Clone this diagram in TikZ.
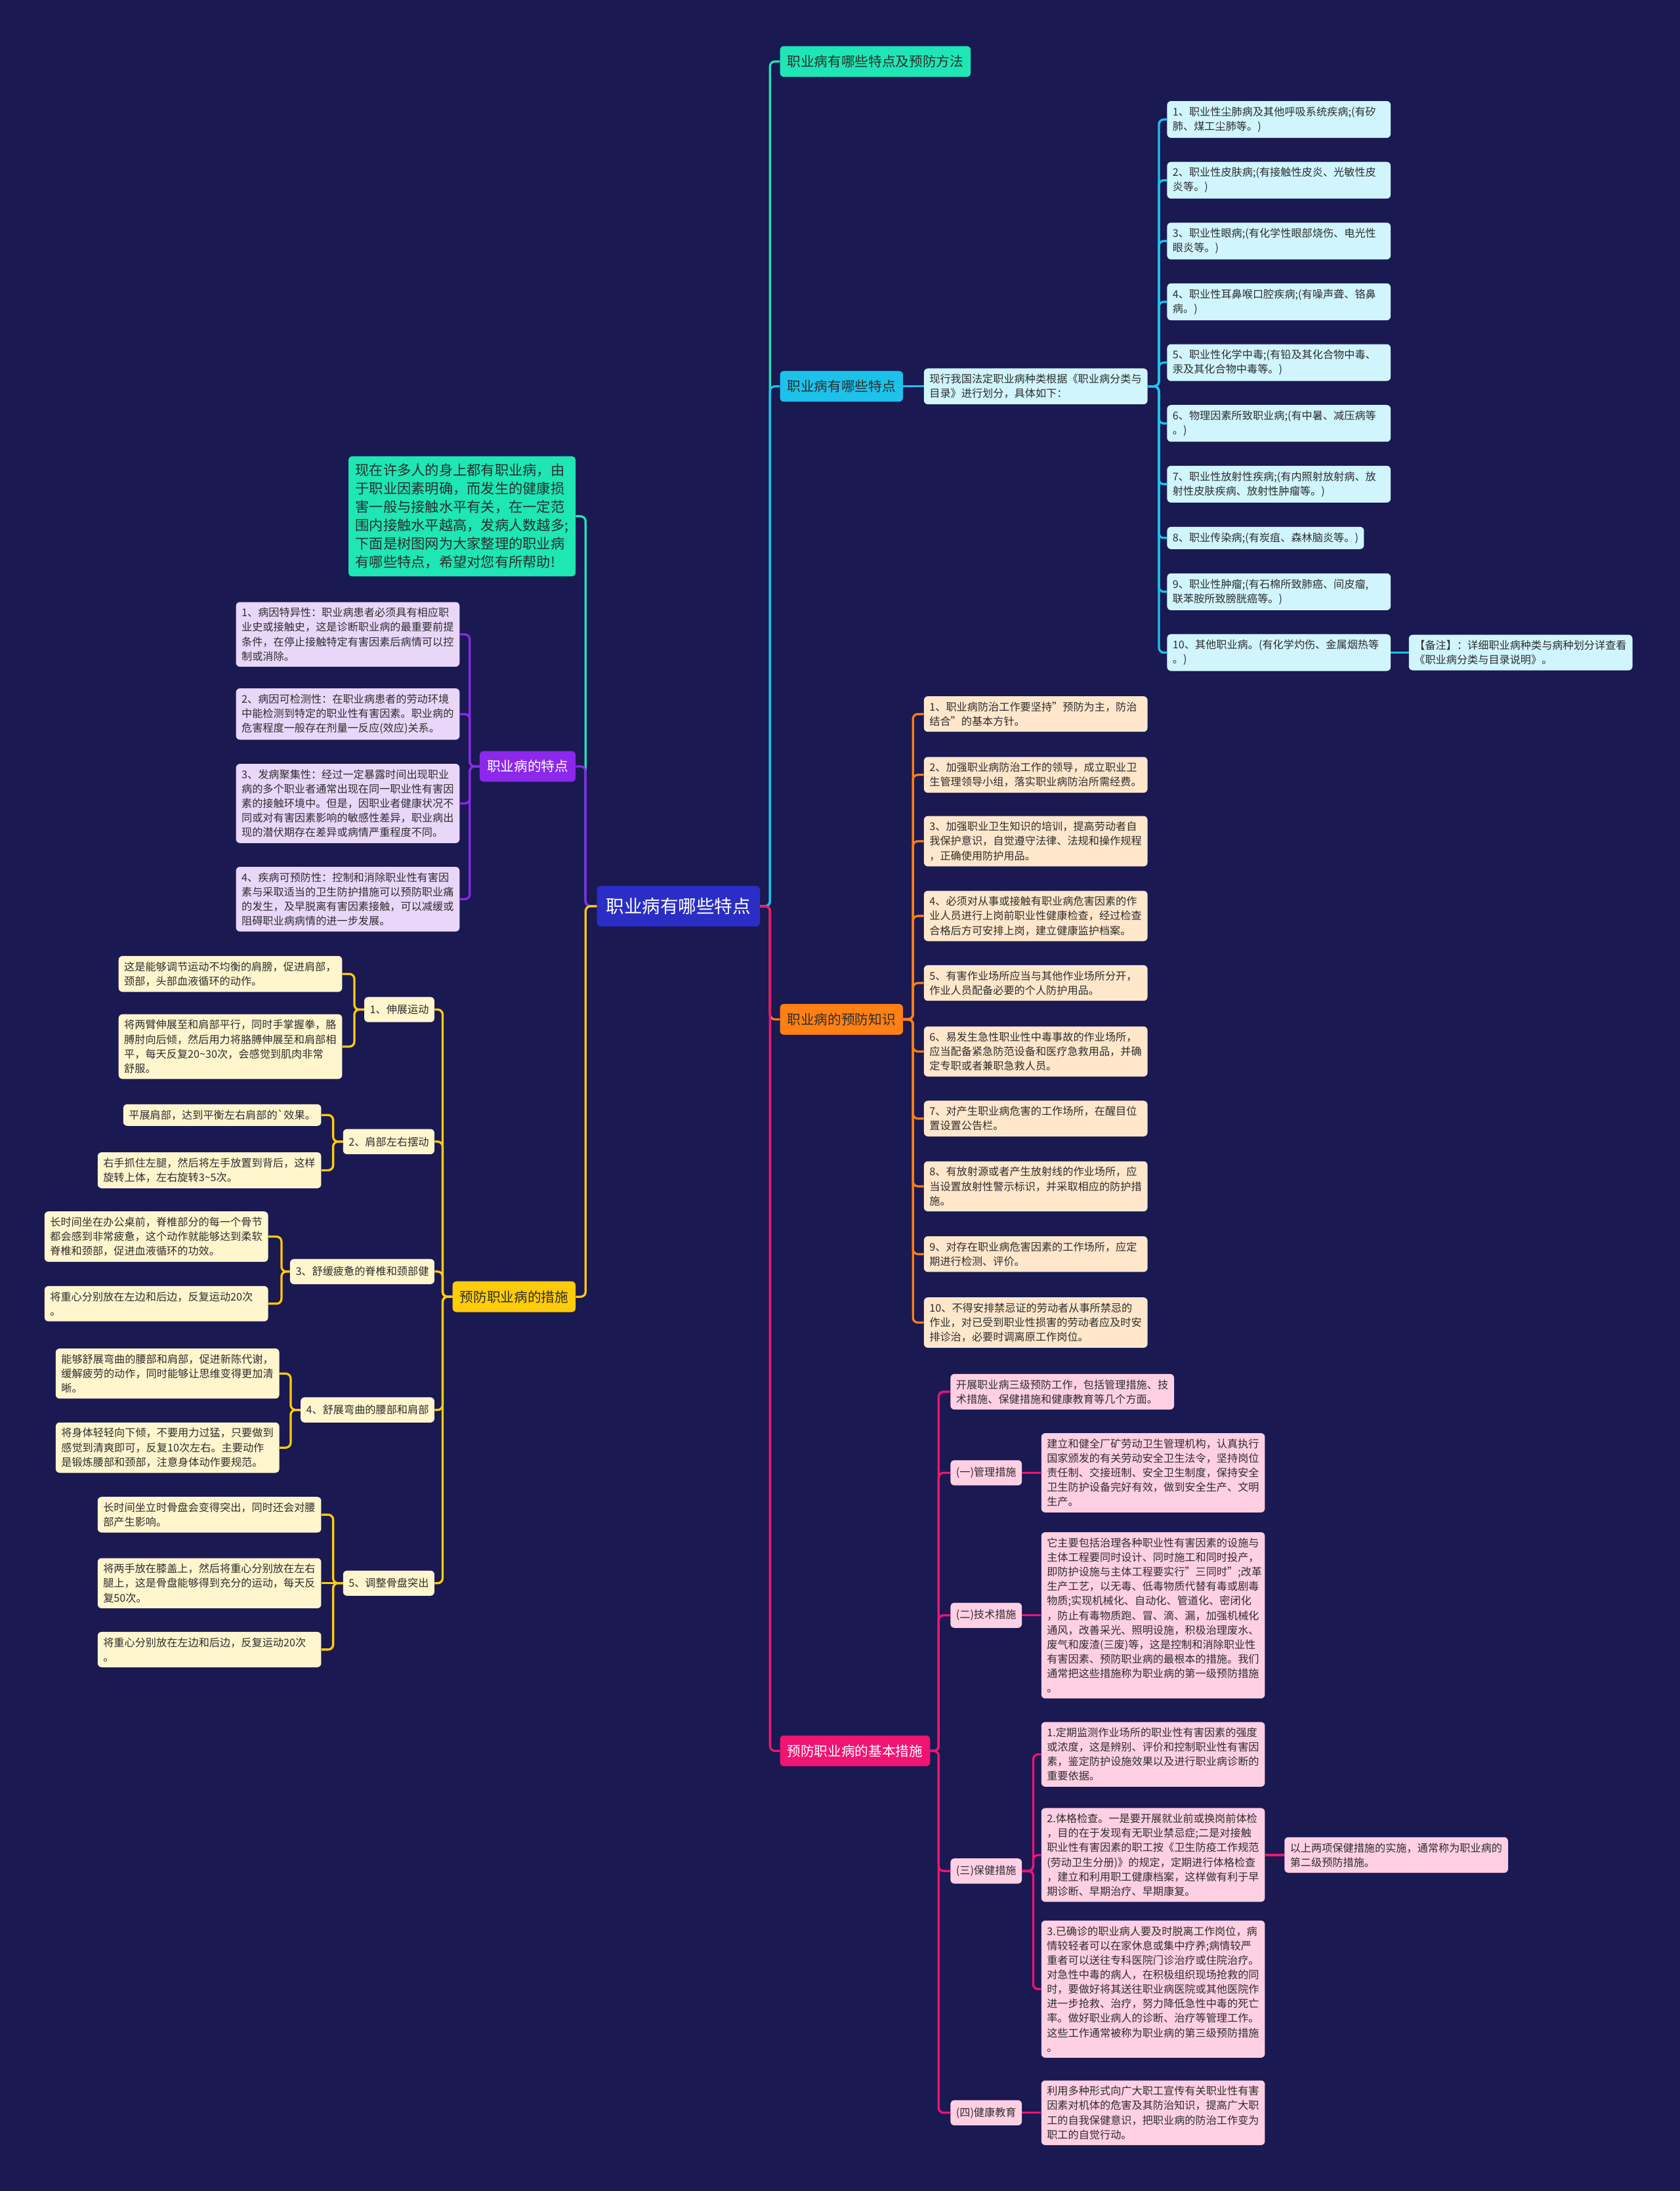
\documentclass[tikz,border=0pt]{standalone}
\usepackage{fontspec}
\setmainfont{Noto Sans CJK SC}
\usepackage{xcolor}
\usepackage{tikz}
\definecolor{bgnavy}{RGB}{26,25,82}
\definecolor{rootblue}{RGB}{42,46,196}
\definecolor{tealc}{RGB}{30,230,180}
\definecolor{cyanc}{RGB}{28,194,234}
\definecolor{orangec}{RGB}{255,128,20}
\definecolor{pinkc}{RGB}{240,20,115}
\definecolor{purplec}{RGB}{140,40,235}
\definecolor{yellowc}{RGB}{255,204,10}
\definecolor{cyanleaf}{RGB}{208,245,253}
\definecolor{orangeleaf}{RGB}{255,231,204}
\definecolor{pinkleaf}{RGB}{255,208,228}
\definecolor{purpleleaf}{RGB}{233,215,250}
\definecolor{yellowleaf}{RGB}{255,246,206}
\definecolor{leaftext}{RGB}{45,45,45}
\tikzset{
  rootbox/.style={
    rounded corners=4pt, fill=rootblue, text=white,
    font=\fontsize{18.4}{22}\selectfont, inner xsep=0.33cm, minimum height=1.45cm
  },
  topicbox/.style={
    rounded corners=4pt, font=\fontsize{13.8}{17}\selectfont,
    inner xsep=0.26cm, minimum height=1.1cm
  },
  introbox/.style={
    rounded corners=4pt, align=left, fill=tealc, text=leaftext,
    font=\fontsize{14.2}{18.7}\selectfont, inner xsep=0.25cm, inner ysep=0.27cm
  },
  shortbox/.style={
    rounded corners=4pt, align=left, text=leaftext,
    font=\fontsize{10.8}{14.8}\selectfont, inner xsep=0.2cm, inner ysep=0.2cm
  },
  leafbox/.style={shortbox, text width=7.6cm},
  subbox/.style={shortbox, minimum height=0.9cm},
  linkline/.style={line width=2.2pt, rounded corners=5pt},
}
\begin{document}
\begin{tikzpicture}[x=0.05cm, y=-0.05cm]
  \useasboundingbox (0,0) rectangle (1202,1568);
  \fill[bgnavy] (0,0) rectangle (1202,1568);

  % Root
  \node[rootbox] (root) at (485.5,648.5) {职业病有哪些特点};

  % ---- Right side topics ----
  \node[topicbox, fill=tealc, text=leaftext, anchor=west] (topMethod) at (558,44) {职业病有哪些特点及预防方法};
  \node[topicbox, fill=cyanc, text=leaftext, anchor=west] (topFeat) at (558,276.5) {职业病有哪些特点};
  \node[topicbox, fill=orangec, text=leaftext, anchor=west] (topKnow) at (558,729.5) {职业病的预防知识};
  \node[topicbox, fill=pinkc, text=white, anchor=west] (topBasic) at (558,1253) {预防职业病的基本措施};

  % ---- Left side topics ----
  \node[introbox, anchor=east] (intro) at (412,369.5)
    {现在许多人的身上都有职业病，由\\于职业因素明确，而发生的健康损\\害一般与接触水平有关，在一定范\\围内接触水平越高，发病人数越多;\\下面是树图网为大家整理的职业病\\有哪些特点，希望对您有所帮助!};
  \node[topicbox, fill=purplec, text=white, anchor=east] (feat) at (412,548.5) {职业病的特点};
  \node[topicbox, fill=yellowc, text=leaftext, anchor=east] (measure) at (412,928) {预防职业病的措施};

  % Categories (cyan)
  \node[leafbox, fill=cyanleaf, anchor=west] (catIntro) at (661,276.5)
    {现行我国法定职业病种类根据《职业病分类与\\目录》进行划分，具体如下：};
  \node[leafbox, fill=cyanleaf, anchor=west] (cat1) at (835,85.5)
    {1、职业性尘肺病及其他呼吸系统疾病;(有矽\\肺、煤工尘肺等。)};
  \node[leafbox, fill=cyanleaf, anchor=west] (cat2) at (835,129)
    {2、职业性皮肤病;(有接触性皮炎、光敏性皮\\炎等。)};
  \node[leafbox, fill=cyanleaf, anchor=west] (cat3) at (835,172.5)
    {3、职业性眼病;(有化学性眼部烧伤、电光性\\眼炎等。)};
  \node[leafbox, fill=cyanleaf, anchor=west] (cat4) at (835,216)
    {4、职业性耳鼻喉口腔疾病;(有噪声聋、铬鼻\\病。)};
  \node[leafbox, fill=cyanleaf, anchor=west] (cat5) at (835,259.5)
    {5、职业性化学中毒;(有铅及其化合物中毒、\\汞及其化合物中毒等。)};
  \node[leafbox, fill=cyanleaf, anchor=west] (cat6) at (835,303)
    {6、物理因素所致职业病;(有中暑、减压病等\\。)};
  \node[leafbox, fill=cyanleaf, anchor=west] (cat7) at (835,346.5)
    {7、职业性放射性疾病;(有内照射放射病、放\\射性皮肤疾病、放射性肿瘤等。)};
  \node[shortbox, fill=cyanleaf, anchor=west] (cat8) at (835,385)
    {8、职业传染病;(有炭疽、森林脑炎等。)};
  \node[leafbox, fill=cyanleaf, anchor=west] (cat9) at (835,423.5)
    {9、职业性肿瘤;(有石棉所致肺癌、间皮瘤,\\联苯胺所致膀胱癌等。)};
  \node[leafbox, fill=cyanleaf, anchor=west] (cat10) at (835,467)
    {10、其他职业病。(有化学灼伤、金属烟热等\\。)};
  \node[leafbox, fill=cyanleaf, anchor=west] (catNote) at (1008,467)
    {【备注】：详细职业病种类与病种划分详查看\\《职业病分类与目录说明》。};

  % Prevention knowledge (orange)
  \node[leafbox, fill=orangeleaf, anchor=west] (know1) at (661,511)
    {1、职业病防治工作要坚持"预防为主，防治\\结合"的基本方针。};
  \node[leafbox, fill=orangeleaf, anchor=west] (know2) at (661,554.5)
    {2、加强职业病防治工作的领导，成立职业卫\\生管理领导小组，落实职业病防治所需经费。};
  \node[leafbox, fill=orangeleaf, anchor=west] (know3) at (661,602)
    {3、加强职业卫生知识的培训，提高劳动者自\\我保护意识，自觉遵守法律、法规和操作规程\\，正确使用防护用品。};
  \node[leafbox, fill=orangeleaf, anchor=west] (know4) at (661,655.5)
    {4、必须对从事或接触有职业病危害因素的作\\业人员进行上岗前职业性健康检查，经过检查\\合格后方可安排上岗，建立健康监护档案。};
  \node[leafbox, fill=orangeleaf, anchor=west] (know5) at (661,703.5)
    {5、有害作业场所应当与其他作业场所分开，\\作业人员配备必要的个人防护用品。};
  \node[leafbox, fill=orangeleaf, anchor=west] (know6) at (661,752.5)
    {6、易发生急性职业性中毒事故的作业场所，\\应当配备紧急防范设备和医疗急救用品，并确\\定专职或者兼职急救人员。};
  \node[leafbox, fill=orangeleaf, anchor=west] (know7) at (661,800.5)
    {7、对产生职业病危害的工作场所，在醒目位\\置设置公告栏。};
  \node[leafbox, fill=orangeleaf, anchor=west] (know8) at (661,849)
    {8、有放射源或者产生放射线的作业场所，应\\当设置放射性警示标识，并采取相应的防护措\\施。};
  \node[leafbox, fill=orangeleaf, anchor=west] (know9) at (661,897.5)
    {9、对存在职业病危害因素的工作场所，应定\\期进行检测、评价。};
  \node[leafbox, fill=orangeleaf, anchor=west] (know10) at (661,946.5)
    {10、不得安排禁忌证的劳动者从事所禁忌的\\作业，对已受到职业性损害的劳动者应及时安\\排诊治，必要时调离原工作岗位。};

  % Basic measures (pink)
  \node[leafbox, fill=pinkleaf, anchor=west] (basicIntro) at (680,996)
    {开展职业病三级预防工作，包括管理措施、技\\术措施、保健措施和健康教育等几个方面。};
  \node[subbox, fill=pinkleaf, anchor=west] (mgmt) at (680,1054) {(一)管理措施};
  \node[leafbox, fill=pinkleaf, anchor=west] (mgmtText) at (745,1054)
    {建立和健全厂矿劳动卫生管理机构，认真执行\\国家颁发的有关劳动安全卫生法令，坚持岗位\\责任制、交接班制、安全卫生制度，保持安全\\卫生防护设备完好有效，做到安全生产、文明\\生产。};
  \node[subbox, fill=pinkleaf, anchor=west] (tech) at (680,1156) {(二)技术措施};
  \node[leafbox, fill=pinkleaf, anchor=west] (techText) at (745,1156)
    {它主要包括治理各种职业性有害因素的设施与\\主体工程要同时设计、同时施工和同时投产，\\即防护设施与主体工程要实行"三同时";改革\\生产工艺，以无毒、低毒物质代替有毒或剧毒\\物质;实现机械化、自动化、管道化、密闭化\\，防止有毒物质跑、冒、滴、漏，加强机械化\\通风，改善采光、照明设施，积极治理废水、\\废气和废渣(三废)等，这是控制和消除职业性\\有害因素、预防职业病的最根本的措施。我们\\通常把这些措施称为职业病的第一级预防措施\\。};
  \node[subbox, fill=pinkleaf, anchor=west] (care) at (680,1339) {(三)保健措施};
  \node[leafbox, fill=pinkleaf, anchor=west] (care1) at (745,1255.5)
    {1.定期监测作业场所的职业性有害因素的强度\\或浓度，这是辨别、评价和控制职业性有害因\\素，鉴定防护设施效果以及进行职业病诊断的\\重要依据。};
  \node[leafbox, fill=pinkleaf, anchor=west] (care2) at (745,1327.5)
    {2.体格检查。一是要开展就业前或换岗前体检\\，目的在于发现有无职业禁忌症;二是对接触\\职业性有害因素的职工按《卫生防疫工作规范\\(劳动卫生分册)》的规定，定期进行体格检查\\，建立和利用职工健康档案，这样做有利于早\\期诊断、早期治疗、早期康复。};
  \node[leafbox, fill=pinkleaf, anchor=west] (careNote) at (919,1327.5)
    {以上两项保健措施的实施，通常称为职业病的\\第二级预防措施。};
  \node[leafbox, fill=pinkleaf, anchor=west] (care3) at (745,1423.5)
    {3.已确诊的职业病人要及时脱离工作岗位，病\\情较轻者可以在家休息或集中疗养;病情较严\\重者可以送往专科医院门诊治疗或住院治疗。\\对急性中毒的病人，在积极组织现场抢救的同\\时，要做好将其送往职业病医院或其他医院作\\进一步抢救、治疗，努力降低急性中毒的死亡\\率。做好职业病人的诊断、治疗等管理工作。\\这些工作通常被称为职业病的第三级预防措施\\。};
  \node[subbox, fill=pinkleaf, anchor=west] (edu) at (680,1512) {(四)健康教育};
  \node[leafbox, fill=pinkleaf, anchor=west] (eduText) at (745,1512)
    {利用多种形式向广大职工宣传有关职业性有害\\因素对机体的危害及其防治知识，提高广大职\\工的自我保健意识，把职业病的防治工作变为\\职工的自觉行动。};

  % Features (purple)
  \node[leafbox, fill=purpleleaf, anchor=east] (feat1) at (329,454)
    {1、病因特异性：职业病患者必须具有相应职\\业史或接触史，这是诊断职业病的最重要前提\\条件，在停止接触特定有害因素后病情可以控\\制或消除。};
  \node[leafbox, fill=purpleleaf, anchor=east] (feat2) at (329,511)
    {2、病因可检测性：在职业病患者的劳动环境\\中能检测到特定的职业性有害因素。职业病的\\危害程度一般存在剂量一反应(效应)关系。};
  \node[leafbox, fill=purpleleaf, anchor=east] (feat3) at (329,575)
    {3、发病聚集性：经过一定暴露时间出现职业\\病的多个职业者通常出现在同一职业性有害因\\素的接触环境中。但是，因职业者健康状况不\\同或对有害因素影响的敏感性差异，职业病出\\现的潜伏期存在差异或病情严重程度不同。};
  \node[leafbox, fill=purpleleaf, anchor=east] (feat4) at (329,643.5)
    {4、疾病可预防性：控制和消除职业性有害因\\素与采取适当的卫生防护措施可以预防职业痛\\的发生，及早脱离有害因素接触，可以减缓或\\阻碍职业病病情的进一步发展。};

  % Exercises (yellow)
  \node[subbox, fill=yellowleaf, anchor=east] (ex1) at (311,722.5) {1、伸展运动};
  \node[leafbox, fill=yellowleaf, anchor=east] (ex1a) at (245,697)
    {这是能够调节运动不均衡的肩膀，促进肩部，\\颈部，头部血液循环的动作。};
  \node[leafbox, fill=yellowleaf, anchor=east] (ex1b) at (245,749)
    {将两臂伸展至和肩部平行，同时手掌握拳，胳\\膊肘向后倾，然后用力将胳膊伸展至和肩部相\\平，每天反复20\textasciitilde30次，会感觉到肌肉非常\\舒服。};
  \node[subbox, fill=yellowleaf, anchor=east] (ex2) at (311,817) {2、肩部左右摆动};
  \node[shortbox, fill=yellowleaf, anchor=east] (ex2a) at (230,798)
    {平展肩部，达到平衡左右肩部的\textasciigrave 效果。};
  \node[leafbox, fill=yellowleaf, anchor=east] (ex2b) at (230,837.5)
    {右手抓住左腿，然后将左手放置到背后，这样\\旋转上体，左右旋转3\textasciitilde5次。};
  \node[subbox, fill=yellowleaf, anchor=east] (ex3) at (311,910) {3、舒缓疲惫的脊椎和颈部健};
  \node[leafbox, fill=yellowleaf, anchor=east] (ex3a) at (192,885)
    {长时间坐在办公桌前，脊椎部分的每一个骨节\\都会感到非常疲惫，这个动作就能够达到柔软\\脊椎和颈部，促进血液循环的功效。};
  \node[leafbox, fill=yellowleaf, anchor=east] (ex3b) at (192,933)
    {将重心分别放在左边和后边，反复运动20次\\。};
  \node[subbox, fill=yellowleaf, anchor=east] (ex4) at (311,1009) {4、舒展弯曲的腰部和肩部};
  \node[leafbox, fill=yellowleaf, anchor=east] (ex4a) at (200,983)
    {能够舒展弯曲的腰部和肩部，促进新陈代谢，\\缓解疲劳的动作，同时能够让思维变得更加清\\晰。};
  \node[leafbox, fill=yellowleaf, anchor=east] (ex4b) at (200,1036)
    {将身体轻轻向下倾，不要用力过猛，只要做到\\感觉到清爽即可，反复10次左右。主要动作\\是锻炼腰部和颈部，注意身体动作要规范。};
  \node[subbox, fill=yellowleaf, anchor=east] (ex5) at (311,1133) {5、调整骨盘突出};
  \node[leafbox, fill=yellowleaf, anchor=east] (ex5a) at (230,1084)
    {长时间坐立时骨盘会变得突出，同时还会对腰\\部产生影响。};
  \node[leafbox, fill=yellowleaf, anchor=east] (ex5b) at (230,1133)
    {将两手放在膝盖上，然后将重心分别放在左右\\腿上，这是骨盘能够得到充分的运动，每天反\\复50次。};
  \node[leafbox, fill=yellowleaf, anchor=east] (ex5c) at (230,1180.5)
    {将重心分别放在左边和后边，反复运动20次\\。};

  % ---- Connectors from root ----
  \draw[linkline, tealc] (root.east) -- ++(7,0) |- (topMethod.west);
  \draw[linkline, cyanc] (root.east) -- ++(7,0) |- (topFeat.west);
  \draw[linkline, orangec] (root.east) -- ++(7,0) |- (topKnow.west);
  \draw[linkline, pinkc] (root.east) -- ++(7,0) |- (topBasic.west);
  \draw[linkline, tealc] (root.west) -- ++(-8,0) |- (intro.east);
  \draw[linkline, purplec] (root.west) -- ++(-8,0) |- (feat.east);
  \draw[linkline, yellowc] (root.west) -- ++(-8,0) |- (measure.east);

  % Categories
  \draw[linkline, cyanc] (topFeat.east) -- (catIntro.west);
  \draw[linkline, cyanc] (catIntro.east) -- ++(8,0) |- (cat1.west);
  \draw[linkline, cyanc] (catIntro.east) -- ++(8,0) |- (cat2.west);
  \draw[linkline, cyanc] (catIntro.east) -- ++(8,0) |- (cat3.west);
  \draw[linkline, cyanc] (catIntro.east) -- ++(8,0) |- (cat4.west);
  \draw[linkline, cyanc] (catIntro.east) -- ++(8,0) |- (cat5.west);
  \draw[linkline, cyanc] (catIntro.east) -- ++(8,0) |- (cat6.west);
  \draw[linkline, cyanc] (catIntro.east) -- ++(8,0) |- (cat7.west);
  \draw[linkline, cyanc] (catIntro.east) -- ++(8,0) |- (cat8.west);
  \draw[linkline, cyanc] (catIntro.east) -- ++(8,0) |- (cat9.west);
  \draw[linkline, cyanc] (catIntro.east) -- ++(8,0) |- (cat10.west);
  \draw[linkline, cyanc] (cat10.east) -- (catNote.west);

  % Prevention knowledge
  \draw[linkline, orangec] (topKnow.east) -- ++(7,0) |- (know1.west);
  \draw[linkline, orangec] (topKnow.east) -- ++(7,0) |- (know2.west);
  \draw[linkline, orangec] (topKnow.east) -- ++(7,0) |- (know3.west);
  \draw[linkline, orangec] (topKnow.east) -- ++(7,0) |- (know4.west);
  \draw[linkline, orangec] (topKnow.east) -- ++(7,0) |- (know5.west);
  \draw[linkline, orangec] (topKnow.east) -- ++(7,0) |- (know6.west);
  \draw[linkline, orangec] (topKnow.east) -- ++(7,0) |- (know7.west);
  \draw[linkline, orangec] (topKnow.east) -- ++(7,0) |- (know8.west);
  \draw[linkline, orangec] (topKnow.east) -- ++(7,0) |- (know9.west);
  \draw[linkline, orangec] (topKnow.east) -- ++(7,0) |- (know10.west);

  % Basic measures
  \draw[linkline, pinkc] (topBasic.east) -- ++(6,0) |- (basicIntro.west);
  \draw[linkline, pinkc] (topBasic.east) -- ++(6,0) |- (mgmt.west);
  \draw[linkline, pinkc] (topBasic.east) -- ++(6,0) |- (tech.west);
  \draw[linkline, pinkc] (topBasic.east) -- ++(6,0) |- (care.west);
  \draw[linkline, pinkc] (topBasic.east) -- ++(6,0) |- (edu.west);
  \draw[linkline, pinkc] (mgmt.east) -- (mgmtText.west);
  \draw[linkline, pinkc] (tech.east) -- (techText.west);
  \draw[linkline, pinkc] (care.east) -- ++(8,0) |- (care1.west);
  \draw[linkline, pinkc] (care.east) -- ++(8,0) |- (care2.west);
  \draw[linkline, pinkc] (care.east) -- ++(8,0) |- (care3.west);
  \draw[linkline, pinkc] (care2.east) -- (careNote.west);
  \draw[linkline, pinkc] (edu.east) -- (eduText.west);

  % Features
  \draw[linkline, purplec] (feat.west) -- ++(-7,0) |- (feat1.east);
  \draw[linkline, purplec] (feat.west) -- ++(-7,0) |- (feat2.east);
  \draw[linkline, purplec] (feat.west) -- ++(-7,0) |- (feat3.east);
  \draw[linkline, purplec] (feat.west) -- ++(-7,0) |- (feat4.east);

  % Exercises
  \draw[linkline, yellowc] (measure.west) -- ++(-7,0) |- (ex1.east);
  \draw[linkline, yellowc] (measure.west) -- ++(-7,0) |- (ex2.east);
  \draw[linkline, yellowc] (measure.west) -- ++(-7,0) |- (ex3.east);
  \draw[linkline, yellowc] (measure.west) -- ++(-7,0) |- (ex4.east);
  \draw[linkline, yellowc] (measure.west) -- ++(-7,0) |- (ex5.east);
  \draw[linkline, yellowc] (ex1.west) -- ++(-7,0) |- (ex1a.east);
  \draw[linkline, yellowc] (ex1.west) -- ++(-7,0) |- (ex1b.east);
  \draw[linkline, yellowc] (ex2.west) -- ++(-7,0) |- (ex2a.east);
  \draw[linkline, yellowc] (ex2.west) -- ++(-7,0) |- (ex2b.east);
  \draw[linkline, yellowc] (ex3.west) -- ++(-6,0) |- (ex3a.east);
  \draw[linkline, yellowc] (ex3.west) -- ++(-6,0) |- (ex3b.east);
  \draw[linkline, yellowc] (ex4.west) -- ++(-7,0) |- (ex4a.east);
  \draw[linkline, yellowc] (ex4.west) -- ++(-7,0) |- (ex4b.east);
  \draw[linkline, yellowc] (ex5.west) -- ++(-7,0) |- (ex5a.east);
  \draw[linkline, yellowc] (ex5.west) -- (ex5b.east);
  \draw[linkline, yellowc] (ex5.west) -- ++(-7,0) |- (ex5c.east);
\end{tikzpicture}
\end{document}
